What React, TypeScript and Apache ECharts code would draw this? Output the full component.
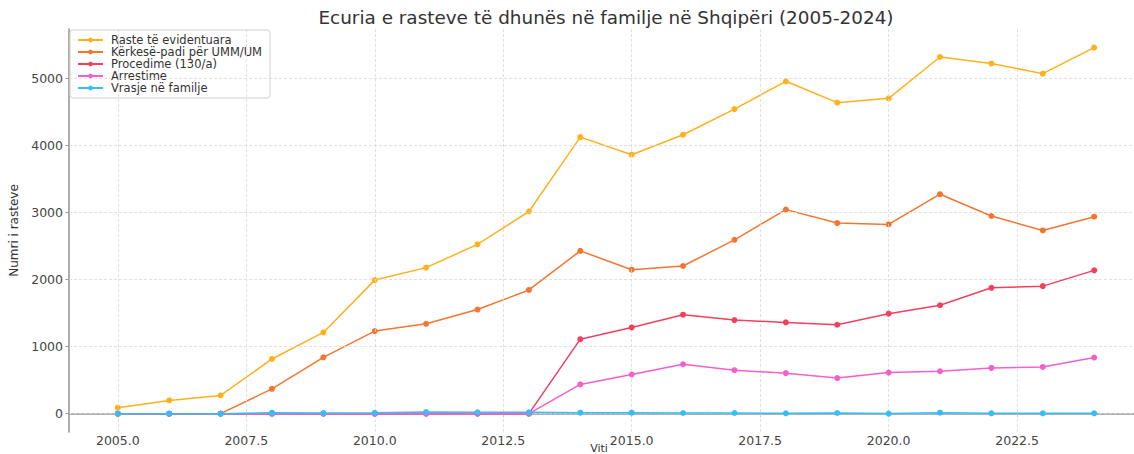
import React, { useEffect, useRef } from "react";
import * as echarts from "echarts";

const years = [2005, 2006, 2007, 2008, 2009, 2010, 2011, 2012, 2013, 2014, 2015, 2016, 2017, 2018, 2019, 2020, 2021, 2022, 2023, 2024];
const rasteEvidentuara = [89, 198, 272, 815, 1210, 1990, 2176, 2522, 3012, 4120, 3858, 4156, 4538, 4952, 4634, 4698, 5314, 5216, 5066, 5454];
const kerkesePadi = [0, 0, 0, 370, 840, 1230, 1339, 1551, 1843, 2425, 2145, 2200, 2590, 3040, 2840, 2820, 3270, 2945, 2730, 2935];
const procedime = [0, 0, 0, 0, 0, 0, 0, 0, 0, 1110, 1285, 1475, 1395, 1360, 1325, 1490, 1615, 1875, 1900, 2135];
const arrestime = [0, 0, 0, 0, 0, 0, 0, 0, 0, 436, 584, 736, 648, 604, 530, 612, 632, 681, 696, 836];
const vrasje = [0, 0, 0, 15, 10, 12, 25, 20, 20, 15, 15, 10, 10, 5, 10, 2, 15, 5, 5, 5];

const seriesNames = ["Raste të evidentuara", "Kërkesë-padi për UMM/UM", "Procedime (130/a)", "Arrestime", "Vrasje në familje"];
const seriesColors = ["#FFB11B", "#F47530", "#F43F5E", "#F45FCB", "#38BDF8"];
const xTicks = [2005, 2007.5, 2010, 2012.5, 2015, 2017.5, 2020, 2022.5];
const yTicks = [0, 1000, 2000, 3000, 4000, 5000];

const FONT = "'DejaVu Sans', 'Liberation Sans', sans-serif";
const GRID_LINE = { color: "#d8d8d8", type: [3, 2] as number[], width: 0.8 };

export default function App() {
  const ref = useRef<HTMLDivElement>(null);
  useEffect(() => {
    if (!ref.current) return;
    const chart = echarts.init(ref.current, null, { renderer: "svg" });
    const allData = [rasteEvidentuara, kerkesePadi, procedime, arrestime, vrasje];
    const lineSeries = seriesNames.map((name, i) => ({
      name,
      type: "line",
      data: years.map((y, j) => [y, allData[i][j]]),
      symbol: "circle",
      symbolSize: 6,
      showSymbol: true,
      itemStyle: { color: seriesColors[i] },
      lineStyle: { color: seriesColors[i], width: 1.5 },
      z: 3 + i,
    }));
    const gridSeries = {
      name: "__grid",
      type: "line",
      data: [],
      silent: true,
      z: 1,
      markLine: {
        silent: true,
        symbol: "none",
        label: { show: false },
        lineStyle: GRID_LINE,
        emphasis: { disabled: true },
        data: [
          ...xTicks.map((v) => ({ xAxis: v })),
          ...yTicks.map((v) => ({ yAxis: v })),
        ],
      },
    };
    chart.setOption({
      animation: false,
      backgroundColor: "#ffffff",
      title: {
        text: "Ecuria e rasteve të dhunës në familje në Shqipëri (2005-2024)",
        left: 601,
        top: 3,
        textAlign: "center",
        textStyle: { fontFamily: FONT, fontSize: 18.4, fontWeight: "normal", color: "#333" },
      },
      legend: {
        orient: "vertical",
        left: 70,
        top: 30,
        padding: [4, 8, 4, 7],
        itemWidth: 25,
        itemHeight: 6,
        itemGap: 0,
        borderColor: "#d0d0d0",
        borderWidth: 1,
        borderRadius: 3,
        backgroundColor: "rgba(255,255,255,0.8)",
        textStyle: { fontFamily: FONT, fontSize: 11.5, color: "#333", lineHeight: 12, padding: [0, 0, 0, 3] },
        data: seriesNames,
      },
      grid: { left: 69, right: -9, top: 29, bottom: 22, containLabel: false, outerBoundsMode: "none" },
      xAxis: {
        type: "value",
        min: 2004.05,
        max: 2024.95,
        name: "Viti",
        nameLocation: "middle",
        nameGap: 11,
        nameMoveOverlap: false,
        nameTextStyle: { fontFamily: FONT, fontSize: 11, color: "#333", padding: [0, 14, 0, 0] },
        axisLine: { show: true, lineStyle: { color: "#999", width: 1.6 } },
        axisTick: { show: true, length: 3.5, lineStyle: { color: "#999" }, customValues: xTicks },
        axisLabel: {
          customValues: xTicks,
          formatter: (v: number) => v.toFixed(1),
          fontFamily: FONT,
          fontSize: 12.5,
          color: "#444",
          margin: 2,
        },
        splitLine: { show: false },
      },
      yAxis: {
        type: "value",
        min: -273,
        max: 5731,
        name: "Numri i rasteve",
        nameLocation: "middle",
        nameGap: 40,
        nameTextStyle: { fontFamily: FONT, fontSize: 12, color: "#333" },
        axisLine: { show: true, lineStyle: { color: "#999", width: 1.6 } },
        axisTick: { show: true, length: 3.5, lineStyle: { color: "#999" }, customValues: yTicks },
        axisLabel: {
          customValues: yTicks,
          formatter: (v: number) => String(v),
          fontFamily: FONT,
          fontSize: 12.5,
          color: "#444",
          margin: 6,
        },
        splitLine: { show: false },
      },
      series: [gridSeries, ...lineSeries],
    });
    return () => chart.dispose();
  }, []);
  return <div ref={ref} style={{ position: "absolute", left: 0, top: 0, width: 1134, height: 454 }} />;
}
